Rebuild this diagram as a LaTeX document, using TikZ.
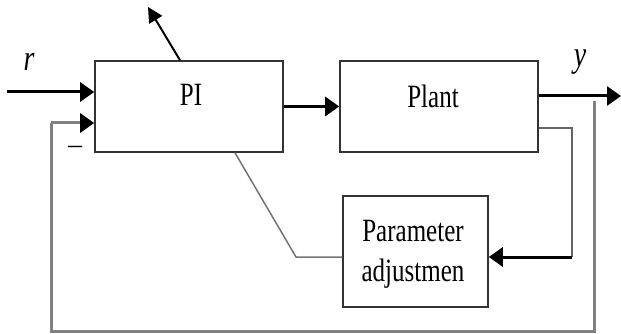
\documentclass[tikz,border=0pt]{standalone}
\usepackage{fontspec}
\setmainfont{Liberation Serif}
\usetikzlibrary{arrows.meta}
% text is set slightly tall and narrow
\newcommand{\tall}[1]{\scalebox{1}[1.3]{#1}}
\begin{document}
\begin{tikzpicture}[x=1pt,y=-1pt,
  block/.style={draw=black!80,line width=1.6pt,rectangle,inner sep=0pt},
  txt/.style={inner sep=0pt,font=\fontsize{25}{29}\selectfont,align=center},
  lbl/.style={inner sep=0pt,font=\fontsize{28}{32}\selectfont\itshape},
  tip/.style={-{Triangle[length=14pt,width=19pt,color=black]}},
  sig/.style={draw=black,line width=3pt,tip},
  fb/.style={draw=black!50,line width=3pt},
  thin/.style={draw=black!55,line width=1.5pt},
]
\useasboundingbox (0,0) rectangle (621,334);

% blocks
\node[block,minimum width=188pt,minimum height=91pt] (pi) at (189,106.5) {};
\node[block,minimum width=198pt,minimum height=91pt] (plant) at (439,106.5) {};
\node[block,minimum width=145pt,minimum height=111pt] (adj) at (415.5,251.5) {};

% block texts
\node[txt] (pit) at (191,95) {\tall{PI}};
\node[txt] (plantt) at (433,96) {\tall{Plant}};
\node[txt] (adjt) at (413,254) {\tall{\begin{tabular}{@{}c@{}}Parameter\\[2pt]adjustmen\end{tabular}}};

% signal labels
\node[lbl] (rl) at (29,62) {\tall{r}};
\node[lbl] (yl) at (580,62) {\tall{y}};
\node[inner sep=0pt,font=\fontsize{28}{32}\selectfont] (minus) at (75,150) {–};

% free ends and corners
\coordinate (rin) at (7,92);
\coordinate (yend) at (621,96);
\coordinate (tap) at (594,101);
\coordinate (botr) at (594,331);
\coordinate (botl) at (51,331);
\coordinate (fbin) at (51,123);
\coordinate (kin) at (572,128);
\coordinate (kdown) at (572,257);
\coordinate (tuneend) at (148,7);
\coordinate (bend) at (296,257);

% forward path
\draw[sig] (rin) -- (rin -| pi.west);
\draw[sig] (pi.east) -- (plant.west);
\draw[sig] ([yshift=10.5pt]plant.east) -- (yend);

% unity feedback
\draw[fb] (tap) -- (botr) -- (botl) -- (fbin);
\draw[fb,tip] (fbin) -- (fbin -| pi.west);

% adaptation loop
\draw[draw=black!60,line width=2.5pt] ([yshift=-21.5pt]plant.east) -- (kin) -- (kdown);
\draw[sig] (kdown) -- (kdown -| adj.east);
\draw[thin] ([xshift=46pt]pi.south) -- (bend) -- (bend -| adj.west);
\draw[draw=black,line width=2pt,-{Triangle[length=15pt,width=15pt]}] ([xshift=-9pt]pi.north) -- (tuneend);
\end{tikzpicture}
\end{document}
